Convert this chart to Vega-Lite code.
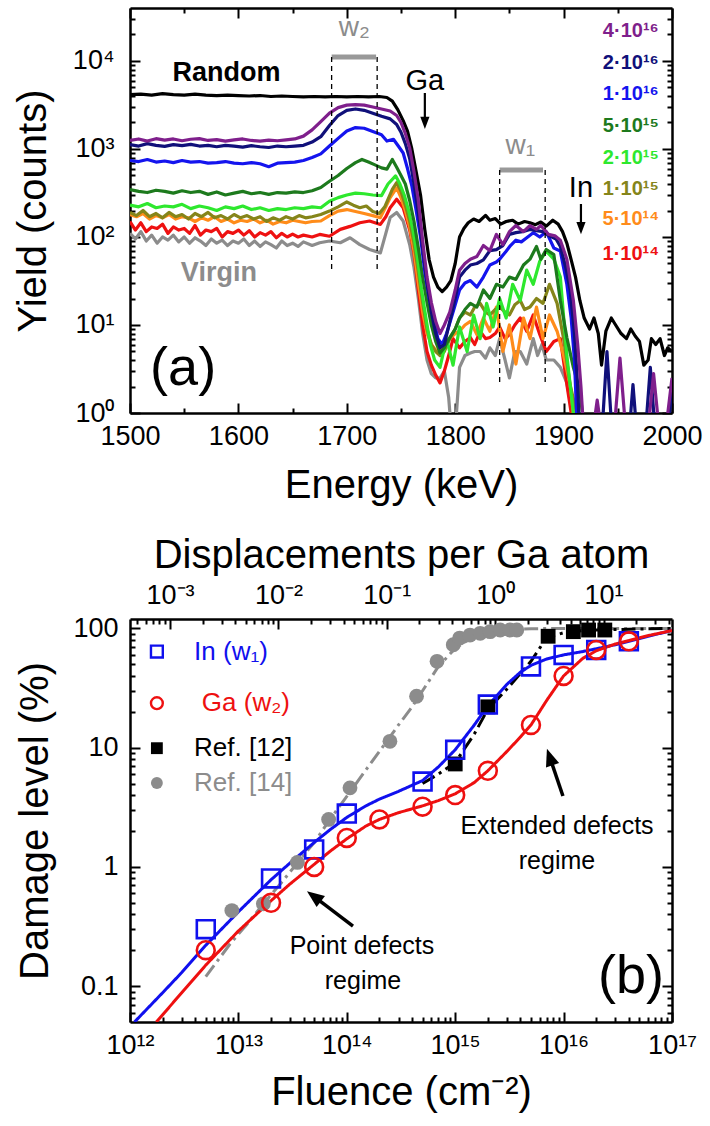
{
"$schema": "https://vega.github.io/schema/vega-lite/v6.json",
"padding": {"left": 13, "top": 7, "right": 5, "bottom": 5},
"config": {
  "font": "Liberation Sans",
  "view": {"stroke": null},
  "axis": {"domainColor": "#000", "domainWidth": 2.5, "tickColor": "#000", "tickWidth": 2, "labelColor": "#000", "titleColor": "#000", "labelFontSize": 27, "titleFontSize": 40, "titleFontWeight": "normal", "grid": false, "labelFlush": false, "labelOverlap": false, "labelFont": "Liberation Sans", "titleFont": "Liberation Sans"}
},
"resolve": {"scale": {"color": "independent", "shape": "independent", "strokeDash": "independent"}},
"datasets": {
"spectra": [
{"s":"Random","E":1500,"Y":4150},{"s":"Random","E":1510,"Y":4200},{"s":"Random","E":1520,"Y":4100},{"s":"Random","E":1530,"Y":4250},{"s":"Random","E":1540,"Y":4150},{"s":"Random","E":1550,"Y":4100},{"s":"Random","E":1560,"Y":4200},{"s":"Random","E":1570,"Y":4100},{"s":"Random","E":1580,"Y":4050},{"s":"Random","E":1590,"Y":4100},{"s":"Random","E":1600,"Y":4050},{"s":"Random","E":1610,"Y":4000},{"s":"Random","E":1620,"Y":4050},{"s":"Random","E":1630,"Y":3950},{"s":"Random","E":1640,"Y":4000},{"s":"Random","E":1650,"Y":3950},{"s":"Random","E":1660,"Y":3900},{"s":"Random","E":1670,"Y":3950},{"s":"Random","E":1680,"Y":3900},{"s":"Random","E":1690,"Y":3950},{"s":"Random","E":1700,"Y":3900},{"s":"Random","E":1710,"Y":3950},{"s":"Random","E":1720,"Y":3900},{"s":"Random","E":1730,"Y":3950},{"s":"Random","E":1737,"Y":3850},{"s":"Random","E":1742,"Y":3500},{"s":"Random","E":1747,"Y":2800},{"s":"Random","E":1752,"Y":2100},{"s":"Random","E":1756,"Y":1600},{"s":"Random","E":1760,"Y":1000},{"s":"Random","E":1764,"Y":550},{"s":"Random","E":1768,"Y":300},{"s":"Random","E":1772,"Y":120},{"s":"Random","E":1776,"Y":55},{"s":"Random","E":1780,"Y":35},{"s":"Random","E":1784,"Y":27},{"s":"Random","E":1788,"Y":24},{"s":"Random","E":1792,"Y":27},{"s":"Random","E":1796,"Y":32},{"s":"Random","E":1800,"Y":50},{"s":"Random","E":1804,"Y":100},{"s":"Random","E":1808,"Y":125},{"s":"Random","E":1812,"Y":145},{"s":"Random","E":1817,"Y":160},{"s":"Random","E":1822,"Y":150},{"s":"Random","E":1828,"Y":176},{"s":"Random","E":1832,"Y":155},{"s":"Random","E":1837,"Y":162},{"s":"Random","E":1842,"Y":140},{"s":"Random","E":1847,"Y":150},{"s":"Random","E":1853,"Y":155},{"s":"Random","E":1858,"Y":140},{"s":"Random","E":1864,"Y":150},{"s":"Random","E":1869,"Y":145},{"s":"Random","E":1874,"Y":138},{"s":"Random","E":1879,"Y":148},{"s":"Random","E":1884,"Y":133},{"s":"Random","E":1890,"Y":155},{"s":"Random","E":1895,"Y":140},{"s":"Random","E":1899,"Y":115},{"s":"Random","E":1903,"Y":85},{"s":"Random","E":1907,"Y":55},{"s":"Random","E":1911,"Y":35},{"s":"Random","E":1915,"Y":19},{"s":"Random","E":1919,"Y":12},{"s":"Random","E":1924,"Y":9},{"s":"Random","E":1928,"Y":12},{"s":"Random","E":1932,"Y":8},{"s":"Random","E":1935,"Y":3.5},{"s":"Random","E":1939,"Y":8.5},{"s":"Random","E":1944,"Y":12},{"s":"Random","E":1948,"Y":10},{"s":"Random","E":1953,"Y":8},{"s":"Random","E":1958,"Y":7},{"s":"Random","E":1962,"Y":9},{"s":"Random","E":1966,"Y":7.5},{"s":"Random","E":1970,"Y":6.5},{"s":"Random","E":1974,"Y":3.5},{"s":"Random","E":1978,"Y":4},{"s":"Random","E":1981,"Y":7},{"s":"Random","E":1985,"Y":6},{"s":"Random","E":1989,"Y":7},{"s":"Random","E":1993,"Y":4.5},{"s":"Random","E":1996,"Y":5.5},{"s":"Random","E":2000,"Y":5},
{"s":"Virgin","E":1500,"Y":110},{"s":"Virgin","E":1505,"Y":95},{"s":"Virgin","E":1510,"Y":115},{"s":"Virgin","E":1515,"Y":90},{"s":"Virgin","E":1520,"Y":105},{"s":"Virgin","E":1525,"Y":85},{"s":"Virgin","E":1530,"Y":100},{"s":"Virgin","E":1535,"Y":92},{"s":"Virgin","E":1540,"Y":105},{"s":"Virgin","E":1545,"Y":88},{"s":"Virgin","E":1550,"Y":100},{"s":"Virgin","E":1555,"Y":85},{"s":"Virgin","E":1560,"Y":98},{"s":"Virgin","E":1565,"Y":90},{"s":"Virgin","E":1570,"Y":80},{"s":"Virgin","E":1575,"Y":95},{"s":"Virgin","E":1580,"Y":85},{"s":"Virgin","E":1585,"Y":92},{"s":"Virgin","E":1590,"Y":80},{"s":"Virgin","E":1595,"Y":90},{"s":"Virgin","E":1600,"Y":85},{"s":"Virgin","E":1605,"Y":95},{"s":"Virgin","E":1610,"Y":80},{"s":"Virgin","E":1615,"Y":90},{"s":"Virgin","E":1620,"Y":78},{"s":"Virgin","E":1625,"Y":88},{"s":"Virgin","E":1630,"Y":82},{"s":"Virgin","E":1635,"Y":75},{"s":"Virgin","E":1640,"Y":90},{"s":"Virgin","E":1645,"Y":80},{"s":"Virgin","E":1650,"Y":85},{"s":"Virgin","E":1655,"Y":78},{"s":"Virgin","E":1660,"Y":88},{"s":"Virgin","E":1668,"Y":80},{"s":"Virgin","E":1675,"Y":86},{"s":"Virgin","E":1684,"Y":90},{"s":"Virgin","E":1694,"Y":86},{"s":"Virgin","E":1703,"Y":98},{"s":"Virgin","E":1712,"Y":82},{"s":"Virgin","E":1721,"Y":72},{"s":"Virgin","E":1731,"Y":66},{"s":"Virgin","E":1736,"Y":110},{"s":"Virgin","E":1740,"Y":166},{"s":"Virgin","E":1746,"Y":190},{"s":"Virgin","E":1752,"Y":152},{"s":"Virgin","E":1758,"Y":82},{"s":"Virgin","E":1762,"Y":45},{"s":"Virgin","E":1766,"Y":20},{"s":"Virgin","E":1770,"Y":8},{"s":"Virgin","E":1774,"Y":4},{"s":"Virgin","E":1778,"Y":2.8},{"s":"Virgin","E":1782,"Y":2.5},{"s":"Virgin","E":1786,"Y":2.5},{"s":"Virgin","E":1790,"Y":3},{"s":"Virgin","E":1794,"Y":1.5},{"s":"Virgin","E":1797,"Y":0.5},{"s":"Virgin","E":1800,"Y":0.6},{"s":"Virgin","E":1804,"Y":3.3},{"s":"Virgin","E":1809,"Y":4.5},{"s":"Virgin","E":1814,"Y":4.8},{"s":"Virgin","E":1818,"Y":5},{"s":"Virgin","E":1823,"Y":5},{"s":"Virgin","E":1828,"Y":4.2},{"s":"Virgin","E":1832,"Y":5.5},{"s":"Virgin","E":1837,"Y":4.5},{"s":"Virgin","E":1841,"Y":7},{"s":"Virgin","E":1846,"Y":4},{"s":"Virgin","E":1850,"Y":2.5},{"s":"Virgin","E":1855,"Y":5},{"s":"Virgin","E":1860,"Y":5},{"s":"Virgin","E":1866,"Y":3.6},{"s":"Virgin","E":1872,"Y":7},{"s":"Virgin","E":1876,"Y":4.5},{"s":"Virgin","E":1880,"Y":6},{"s":"Virgin","E":1884,"Y":4},{"s":"Virgin","E":1891,"Y":4},{"s":"Virgin","E":1897,"Y":3.3},{"s":"Virgin","E":1903,"Y":2.2},{"s":"Virgin","E":1907,"Y":1.2},{"s":"Virgin","E":1910,"Y":0.5},
{"s":"1e14","E":1500,"Y":150},{"s":"1e14","E":1505,"Y":120},{"s":"1e14","E":1510,"Y":145},{"s":"1e14","E":1515,"Y":115},{"s":"1e14","E":1520,"Y":130},{"s":"1e14","E":1525,"Y":125},{"s":"1e14","E":1530,"Y":140},{"s":"1e14","E":1535,"Y":110},{"s":"1e14","E":1540,"Y":130},{"s":"1e14","E":1545,"Y":120},{"s":"1e14","E":1550,"Y":125},{"s":"1e14","E":1555,"Y":110},{"s":"1e14","E":1560,"Y":135},{"s":"1e14","E":1565,"Y":105},{"s":"1e14","E":1570,"Y":120},{"s":"1e14","E":1575,"Y":115},{"s":"1e14","E":1580,"Y":125},{"s":"1e14","E":1585,"Y":100},{"s":"1e14","E":1590,"Y":115},{"s":"1e14","E":1595,"Y":110},{"s":"1e14","E":1600,"Y":120},{"s":"1e14","E":1605,"Y":105},{"s":"1e14","E":1610,"Y":118},{"s":"1e14","E":1615,"Y":100},{"s":"1e14","E":1620,"Y":112},{"s":"1e14","E":1625,"Y":105},{"s":"1e14","E":1630,"Y":115},{"s":"1e14","E":1635,"Y":98},{"s":"1e14","E":1640,"Y":110},{"s":"1e14","E":1645,"Y":100},{"s":"1e14","E":1650,"Y":108},{"s":"1e14","E":1655,"Y":100},{"s":"1e14","E":1660,"Y":105},{"s":"1e14","E":1668,"Y":100},{"s":"1e14","E":1675,"Y":107},{"s":"1e14","E":1684,"Y":102},{"s":"1e14","E":1694,"Y":122},{"s":"1e14","E":1703,"Y":132},{"s":"1e14","E":1712,"Y":145},{"s":"1e14","E":1721,"Y":152},{"s":"1e14","E":1731,"Y":139},{"s":"1e14","E":1736,"Y":170},{"s":"1e14","E":1740,"Y":215},{"s":"1e14","E":1746,"Y":268},{"s":"1e14","E":1752,"Y":215},{"s":"1e14","E":1758,"Y":120},{"s":"1e14","E":1762,"Y":65},{"s":"1e14","E":1766,"Y":25},{"s":"1e14","E":1770,"Y":10},{"s":"1e14","E":1774,"Y":5},{"s":"1e14","E":1778,"Y":3.5},{"s":"1e14","E":1782,"Y":2.7},{"s":"1e14","E":1786,"Y":2.2},{"s":"1e14","E":1790,"Y":3},{"s":"1e14","E":1794,"Y":4.5},{"s":"1e14","E":1798,"Y":7},{"s":"1e14","E":1804,"Y":5.5},{"s":"1e14","E":1809,"Y":6.5},{"s":"1e14","E":1814,"Y":7.2},{"s":"1e14","E":1818,"Y":6},{"s":"1e14","E":1823,"Y":8.5},{"s":"1e14","E":1828,"Y":7},{"s":"1e14","E":1832,"Y":7.2},{"s":"1e14","E":1837,"Y":8},{"s":"1e14","E":1841,"Y":9.5},{"s":"1e14","E":1846,"Y":7},{"s":"1e14","E":1850,"Y":7.8},{"s":"1e14","E":1855,"Y":10},{"s":"1e14","E":1860,"Y":12},{"s":"1e14","E":1866,"Y":8.5},{"s":"1e14","E":1872,"Y":13},{"s":"1e14","E":1878,"Y":7.8},{"s":"1e14","E":1884,"Y":5},{"s":"1e14","E":1891,"Y":6.5},{"s":"1e14","E":1897,"Y":7},{"s":"1e14","E":1903,"Y":2.1},{"s":"1e14","E":1907,"Y":1},{"s":"1e14","E":1910,"Y":0.5},
{"s":"5e14","E":1500,"Y":180},{"s":"5e14","E":1506,"Y":170},{"s":"5e14","E":1512,"Y":185},{"s":"5e14","E":1518,"Y":160},{"s":"5e14","E":1524,"Y":175},{"s":"5e14","E":1530,"Y":165},{"s":"5e14","E":1536,"Y":180},{"s":"5e14","E":1542,"Y":160},{"s":"5e14","E":1548,"Y":170},{"s":"5e14","E":1554,"Y":165},{"s":"5e14","E":1560,"Y":150},{"s":"5e14","E":1566,"Y":165},{"s":"5e14","E":1572,"Y":155},{"s":"5e14","E":1578,"Y":170},{"s":"5e14","E":1584,"Y":150},{"s":"5e14","E":1590,"Y":160},{"s":"5e14","E":1596,"Y":145},{"s":"5e14","E":1602,"Y":155},{"s":"5e14","E":1608,"Y":150},{"s":"5e14","E":1614,"Y":160},{"s":"5e14","E":1620,"Y":145},{"s":"5e14","E":1626,"Y":155},{"s":"5e14","E":1632,"Y":140},{"s":"5e14","E":1638,"Y":150},{"s":"5e14","E":1644,"Y":145},{"s":"5e14","E":1650,"Y":155},{"s":"5e14","E":1656,"Y":150},{"s":"5e14","E":1662,"Y":145},{"s":"5e14","E":1668,"Y":150},{"s":"5e14","E":1676,"Y":152},{"s":"5e14","E":1684,"Y":175},{"s":"5e14","E":1692,"Y":197},{"s":"5e14","E":1700,"Y":205},{"s":"5e14","E":1708,"Y":195},{"s":"5e14","E":1716,"Y":185},{"s":"5e14","E":1724,"Y":175},{"s":"5e14","E":1731,"Y":166},{"s":"5e14","E":1736,"Y":220},{"s":"5e14","E":1740,"Y":280},{"s":"5e14","E":1746,"Y":362},{"s":"5e14","E":1750,"Y":280},{"s":"5e14","E":1754,"Y":200},{"s":"5e14","E":1758,"Y":130},{"s":"5e14","E":1762,"Y":70},{"s":"5e14","E":1766,"Y":30},{"s":"5e14","E":1770,"Y":14},{"s":"5e14","E":1774,"Y":8},{"s":"5e14","E":1778,"Y":6},{"s":"5e14","E":1782,"Y":5.2},{"s":"5e14","E":1786,"Y":5},{"s":"5e14","E":1790,"Y":6},{"s":"5e14","E":1795,"Y":7},{"s":"5e14","E":1800,"Y":8},{"s":"5e14","E":1804,"Y":8.5},{"s":"5e14","E":1809,"Y":10},{"s":"5e14","E":1814,"Y":11},{"s":"5e14","E":1820,"Y":7.8},{"s":"5e14","E":1826,"Y":12},{"s":"5e14","E":1832,"Y":8.5},{"s":"5e14","E":1838,"Y":16},{"s":"5e14","E":1844,"Y":5},{"s":"5e14","E":1850,"Y":10},{"s":"5e14","E":1856,"Y":3.6},{"s":"5e14","E":1863,"Y":12},{"s":"5e14","E":1869,"Y":7},{"s":"5e14","E":1875,"Y":16},{"s":"5e14","E":1881,"Y":7},{"s":"5e14","E":1887,"Y":13},{"s":"5e14","E":1894,"Y":8.5},{"s":"5e14","E":1900,"Y":4.5},{"s":"5e14","E":1906,"Y":2.1},{"s":"5e14","E":1909,"Y":1},{"s":"5e14","E":1912,"Y":0.5},
{"s":"1e15","E":1500,"Y":190},{"s":"1e15","E":1506,"Y":175},{"s":"1e15","E":1512,"Y":200},{"s":"1e15","E":1518,"Y":170},{"s":"1e15","E":1524,"Y":185},{"s":"1e15","E":1530,"Y":165},{"s":"1e15","E":1536,"Y":190},{"s":"1e15","E":1542,"Y":170},{"s":"1e15","E":1548,"Y":180},{"s":"1e15","E":1554,"Y":160},{"s":"1e15","E":1560,"Y":185},{"s":"1e15","E":1566,"Y":170},{"s":"1e15","E":1572,"Y":190},{"s":"1e15","E":1578,"Y":165},{"s":"1e15","E":1584,"Y":175},{"s":"1e15","E":1590,"Y":160},{"s":"1e15","E":1596,"Y":180},{"s":"1e15","E":1602,"Y":165},{"s":"1e15","E":1608,"Y":175},{"s":"1e15","E":1614,"Y":160},{"s":"1e15","E":1620,"Y":170},{"s":"1e15","E":1626,"Y":150},{"s":"1e15","E":1632,"Y":165},{"s":"1e15","E":1638,"Y":155},{"s":"1e15","E":1644,"Y":170},{"s":"1e15","E":1650,"Y":160},{"s":"1e15","E":1656,"Y":175},{"s":"1e15","E":1662,"Y":165},{"s":"1e15","E":1668,"Y":170},{"s":"1e15","E":1676,"Y":180},{"s":"1e15","E":1684,"Y":197},{"s":"1e15","E":1692,"Y":220},{"s":"1e15","E":1700,"Y":250},{"s":"1e15","E":1706,"Y":230},{"s":"1e15","E":1712,"Y":215},{"s":"1e15","E":1718,"Y":225},{"s":"1e15","E":1724,"Y":195},{"s":"1e15","E":1730,"Y":185},{"s":"1e15","E":1735,"Y":220},{"s":"1e15","E":1742,"Y":348},{"s":"1e15","E":1746,"Y":415},{"s":"1e15","E":1750,"Y":330},{"s":"1e15","E":1754,"Y":230},{"s":"1e15","E":1758,"Y":152},{"s":"1e15","E":1762,"Y":85},{"s":"1e15","E":1766,"Y":40},{"s":"1e15","E":1770,"Y":18},{"s":"1e15","E":1774,"Y":9},{"s":"1e15","E":1778,"Y":6},{"s":"1e15","E":1782,"Y":5},{"s":"1e15","E":1786,"Y":4.5},{"s":"1e15","E":1790,"Y":5},{"s":"1e15","E":1795,"Y":7},{"s":"1e15","E":1800,"Y":9},{"s":"1e15","E":1804,"Y":12},{"s":"1e15","E":1809,"Y":14},{"s":"1e15","E":1814,"Y":13},{"s":"1e15","E":1818,"Y":16},{"s":"1e15","E":1823,"Y":17.6},{"s":"1e15","E":1828,"Y":14},{"s":"1e15","E":1832,"Y":13},{"s":"1e15","E":1837,"Y":15},{"s":"1e15","E":1841,"Y":16},{"s":"1e15","E":1846,"Y":14},{"s":"1e15","E":1850,"Y":13},{"s":"1e15","E":1855,"Y":17},{"s":"1e15","E":1860,"Y":19},{"s":"1e15","E":1864,"Y":15},{"s":"1e15","E":1869,"Y":16},{"s":"1e15","E":1875,"Y":20},{"s":"1e15","E":1881,"Y":17.6},{"s":"1e15","E":1887,"Y":29},{"s":"1e15","E":1894,"Y":17.6},{"s":"1e15","E":1900,"Y":7},{"s":"1e15","E":1906,"Y":2.1},{"s":"1e15","E":1912,"Y":1},{"s":"1e15","E":1916,"Y":0.5},
{"s":"2e15","E":1500,"Y":230},{"s":"2e15","E":1508,"Y":220},{"s":"2e15","E":1516,"Y":240},{"s":"2e15","E":1524,"Y":215},{"s":"2e15","E":1532,"Y":225},{"s":"2e15","E":1540,"Y":220},{"s":"2e15","E":1548,"Y":235},{"s":"2e15","E":1556,"Y":210},{"s":"2e15","E":1564,"Y":225},{"s":"2e15","E":1572,"Y":215},{"s":"2e15","E":1580,"Y":200},{"s":"2e15","E":1588,"Y":220},{"s":"2e15","E":1596,"Y":210},{"s":"2e15","E":1604,"Y":225},{"s":"2e15","E":1612,"Y":205},{"s":"2e15","E":1620,"Y":215},{"s":"2e15","E":1628,"Y":200},{"s":"2e15","E":1636,"Y":210},{"s":"2e15","E":1644,"Y":205},{"s":"2e15","E":1652,"Y":215},{"s":"2e15","E":1660,"Y":210},{"s":"2e15","E":1668,"Y":220},{"s":"2e15","E":1676,"Y":215},{"s":"2e15","E":1684,"Y":255},{"s":"2e15","E":1692,"Y":280},{"s":"2e15","E":1700,"Y":300},{"s":"2e15","E":1708,"Y":315},{"s":"2e15","E":1716,"Y":310},{"s":"2e15","E":1724,"Y":300},{"s":"2e15","E":1732,"Y":295},{"s":"2e15","E":1738,"Y":400},{"s":"2e15","E":1745,"Y":495},{"s":"2e15","E":1749,"Y":400},{"s":"2e15","E":1753,"Y":300},{"s":"2e15","E":1757,"Y":200},{"s":"2e15","E":1761,"Y":120},{"s":"2e15","E":1765,"Y":60},{"s":"2e15","E":1769,"Y":25},{"s":"2e15","E":1773,"Y":12},{"s":"2e15","E":1777,"Y":6},{"s":"2e15","E":1781,"Y":4},{"s":"2e15","E":1786,"Y":3.3},{"s":"2e15","E":1792,"Y":7},{"s":"2e15","E":1798,"Y":3.5},{"s":"2e15","E":1804,"Y":9.5},{"s":"2e15","E":1811,"Y":5},{"s":"2e15","E":1817,"Y":13},{"s":"2e15","E":1823,"Y":7},{"s":"2e15","E":1829,"Y":17.6},{"s":"2e15","E":1835,"Y":9.5},{"s":"2e15","E":1841,"Y":20},{"s":"2e15","E":1847,"Y":12},{"s":"2e15","E":1853,"Y":29},{"s":"2e15","E":1860,"Y":19},{"s":"2e15","E":1866,"Y":42},{"s":"2e15","E":1872,"Y":29},{"s":"2e15","E":1878,"Y":53},{"s":"2e15","E":1884,"Y":69},{"s":"2e15","E":1891,"Y":56},{"s":"2e15","E":1897,"Y":35},{"s":"2e15","E":1903,"Y":4.5},{"s":"2e15","E":1909,"Y":1.0},{"s":"2e15","E":1912,"Y":0.5},
{"s":"5e15","E":1500,"Y":345},{"s":"5e15","E":1508,"Y":330},{"s":"5e15","E":1516,"Y":320},{"s":"5e15","E":1524,"Y":340},{"s":"5e15","E":1532,"Y":330},{"s":"5e15","E":1540,"Y":315},{"s":"5e15","E":1548,"Y":335},{"s":"5e15","E":1556,"Y":320},{"s":"5e15","E":1564,"Y":330},{"s":"5e15","E":1572,"Y":305},{"s":"5e15","E":1580,"Y":325},{"s":"5e15","E":1588,"Y":300},{"s":"5e15","E":1596,"Y":315},{"s":"5e15","E":1604,"Y":330},{"s":"5e15","E":1612,"Y":310},{"s":"5e15","E":1620,"Y":320},{"s":"5e15","E":1628,"Y":305},{"s":"5e15","E":1636,"Y":320},{"s":"5e15","E":1644,"Y":315},{"s":"5e15","E":1652,"Y":325},{"s":"5e15","E":1660,"Y":320},{"s":"5e15","E":1668,"Y":335},{"s":"5e15","E":1676,"Y":365},{"s":"5e15","E":1684,"Y":430},{"s":"5e15","E":1692,"Y":500},{"s":"5e15","E":1700,"Y":600},{"s":"5e15","E":1708,"Y":700},{"s":"5e15","E":1714,"Y":760},{"s":"5e15","E":1720,"Y":710},{"s":"5e15","E":1726,"Y":660},{"s":"5e15","E":1732,"Y":610},{"s":"5e15","E":1737,"Y":590},{"s":"5e15","E":1742,"Y":760},{"s":"5e15","E":1746,"Y":620},{"s":"5e15","E":1750,"Y":500},{"s":"5e15","E":1754,"Y":400},{"s":"5e15","E":1758,"Y":260},{"s":"5e15","E":1762,"Y":150},{"s":"5e15","E":1766,"Y":75},{"s":"5e15","E":1770,"Y":35},{"s":"5e15","E":1774,"Y":18},{"s":"5e15","E":1778,"Y":10},{"s":"5e15","E":1782,"Y":6.5},{"s":"5e15","E":1786,"Y":4.8},{"s":"5e15","E":1790,"Y":5.5},{"s":"5e15","E":1795,"Y":7.2},{"s":"5e15","E":1800,"Y":9},{"s":"5e15","E":1804,"Y":12},{"s":"5e15","E":1809,"Y":15},{"s":"5e15","E":1814,"Y":17.6},{"s":"5e15","E":1820,"Y":16},{"s":"5e15","E":1826,"Y":25},{"s":"5e15","E":1832,"Y":20},{"s":"5e15","E":1838,"Y":29},{"s":"5e15","E":1844,"Y":27},{"s":"5e15","E":1850,"Y":35},{"s":"5e15","E":1856,"Y":33},{"s":"5e15","E":1863,"Y":48},{"s":"5e15","E":1869,"Y":56},{"s":"5e15","E":1875,"Y":78},{"s":"5e15","E":1879,"Y":56},{"s":"5e15","E":1884,"Y":72},{"s":"5e15","E":1891,"Y":63},{"s":"5e15","E":1897,"Y":19},{"s":"5e15","E":1903,"Y":7.2},{"s":"5e15","E":1909,"Y":3.3},{"s":"5e15","E":1915,"Y":1.8},{"s":"5e15","E":1920,"Y":0.5},
{"s":"1e16","E":1500,"Y":740},{"s":"1e16","E":1508,"Y":720},{"s":"1e16","E":1516,"Y":760},{"s":"1e16","E":1524,"Y":710},{"s":"1e16","E":1532,"Y":730},{"s":"1e16","E":1540,"Y":700},{"s":"1e16","E":1548,"Y":740},{"s":"1e16","E":1556,"Y":710},{"s":"1e16","E":1564,"Y":720},{"s":"1e16","E":1572,"Y":690},{"s":"1e16","E":1580,"Y":700},{"s":"1e16","E":1588,"Y":720},{"s":"1e16","E":1596,"Y":690},{"s":"1e16","E":1604,"Y":680},{"s":"1e16","E":1612,"Y":700},{"s":"1e16","E":1620,"Y":680},{"s":"1e16","E":1628,"Y":630},{"s":"1e16","E":1636,"Y":690},{"s":"1e16","E":1644,"Y":700},{"s":"1e16","E":1652,"Y":710},{"s":"1e16","E":1660,"Y":740},{"s":"1e16","E":1668,"Y":800},{"s":"1e16","E":1676,"Y":880},{"s":"1e16","E":1684,"Y":1080},{"s":"1e16","E":1692,"Y":1320},{"s":"1e16","E":1700,"Y":1600},{"s":"1e16","E":1708,"Y":1750},{"s":"1e16","E":1716,"Y":1720},{"s":"1e16","E":1724,"Y":1580},{"s":"1e16","E":1732,"Y":1450},{"s":"1e16","E":1737,"Y":1230},{"s":"1e16","E":1743,"Y":1290},{"s":"1e16","E":1748,"Y":1060},{"s":"1e16","E":1752,"Y":900},{"s":"1e16","E":1756,"Y":600},{"s":"1e16","E":1760,"Y":380},{"s":"1e16","E":1764,"Y":200},{"s":"1e16","E":1768,"Y":100},{"s":"1e16","E":1772,"Y":40},{"s":"1e16","E":1776,"Y":20},{"s":"1e16","E":1780,"Y":12},{"s":"1e16","E":1784,"Y":7},{"s":"1e16","E":1788,"Y":6},{"s":"1e16","E":1792,"Y":8},{"s":"1e16","E":1795,"Y":10.5},{"s":"1e16","E":1800,"Y":17},{"s":"1e16","E":1804,"Y":25},{"s":"1e16","E":1809,"Y":30},{"s":"1e16","E":1814,"Y":32},{"s":"1e16","E":1820,"Y":27},{"s":"1e16","E":1826,"Y":35},{"s":"1e16","E":1832,"Y":48},{"s":"1e16","E":1838,"Y":52},{"s":"1e16","E":1841,"Y":56},{"s":"1e16","E":1847,"Y":69},{"s":"1e16","E":1851,"Y":80},{"s":"1e16","E":1856,"Y":92},{"s":"1e16","E":1861,"Y":88},{"s":"1e16","E":1866,"Y":98},{"s":"1e16","E":1872,"Y":112},{"s":"1e16","E":1878,"Y":100},{"s":"1e16","E":1884,"Y":115},{"s":"1e16","E":1891,"Y":75},{"s":"1e16","E":1897,"Y":69},{"s":"1e16","E":1903,"Y":29},{"s":"1e16","E":1907,"Y":12},{"s":"1e16","E":1910,"Y":4},{"s":"1e16","E":1913,"Y":0.5},
{"s":"2e16","E":1500,"Y":1120},{"s":"2e16","E":1508,"Y":1080},{"s":"2e16","E":1516,"Y":1150},{"s":"2e16","E":1524,"Y":1100},{"s":"2e16","E":1532,"Y":1070},{"s":"2e16","E":1540,"Y":1120},{"s":"2e16","E":1548,"Y":1090},{"s":"2e16","E":1556,"Y":1130},{"s":"2e16","E":1564,"Y":1080},{"s":"2e16","E":1572,"Y":1100},{"s":"2e16","E":1580,"Y":1060},{"s":"2e16","E":1588,"Y":1100},{"s":"2e16","E":1596,"Y":1080},{"s":"2e16","E":1604,"Y":1050},{"s":"2e16","E":1612,"Y":1090},{"s":"2e16","E":1620,"Y":1060},{"s":"2e16","E":1628,"Y":1040},{"s":"2e16","E":1636,"Y":1080},{"s":"2e16","E":1644,"Y":1060},{"s":"2e16","E":1652,"Y":1080},{"s":"2e16","E":1660,"Y":1100},{"s":"2e16","E":1668,"Y":1200},{"s":"2e16","E":1676,"Y":1380},{"s":"2e16","E":1684,"Y":1850},{"s":"2e16","E":1692,"Y":2400},{"s":"2e16","E":1700,"Y":2750},{"s":"2e16","E":1708,"Y":2850},{"s":"2e16","E":1716,"Y":2750},{"s":"2e16","E":1724,"Y":2550},{"s":"2e16","E":1732,"Y":2350},{"s":"2e16","E":1740,"Y":2200},{"s":"2e16","E":1746,"Y":1900},{"s":"2e16","E":1750,"Y":1550},{"s":"2e16","E":1754,"Y":1150},{"s":"2e16","E":1758,"Y":780},{"s":"2e16","E":1762,"Y":400},{"s":"2e16","E":1766,"Y":190},{"s":"2e16","E":1770,"Y":75},{"s":"2e16","E":1774,"Y":30},{"s":"2e16","E":1778,"Y":14},{"s":"2e16","E":1782,"Y":8},{"s":"2e16","E":1786,"Y":5.5},{"s":"2e16","E":1790,"Y":6},{"s":"2e16","E":1795,"Y":11},{"s":"2e16","E":1800,"Y":20},{"s":"2e16","E":1804,"Y":35},{"s":"2e16","E":1809,"Y":42},{"s":"2e16","E":1814,"Y":48},{"s":"2e16","E":1820,"Y":50},{"s":"2e16","E":1826,"Y":55},{"s":"2e16","E":1832,"Y":70},{"s":"2e16","E":1838,"Y":72},{"s":"2e16","E":1844,"Y":80},{"s":"2e16","E":1850,"Y":107},{"s":"2e16","E":1856,"Y":112},{"s":"2e16","E":1862,"Y":115},{"s":"2e16","E":1869,"Y":122},{"s":"2e16","E":1875,"Y":118},{"s":"2e16","E":1881,"Y":115},{"s":"2e16","E":1887,"Y":103},{"s":"2e16","E":1893,"Y":95},{"s":"2e16","E":1897,"Y":78},{"s":"2e16","E":1902,"Y":45},{"s":"2e16","E":1906,"Y":25},{"s":"2e16","E":1910,"Y":8},{"s":"2e16","E":1913,"Y":2},{"s":"2e16","E":1915,"Y":0.5},{"s":"2e16","E":1935,"Y":0.5},{"s":"2e16","E":1940,"Y":5},{"s":"2e16","E":1945,"Y":0.5},{"s":"2e16","E":1960,"Y":0.5},{"s":"2e16","E":1964,"Y":2.1},{"s":"2e16","E":1968,"Y":0.5},{"s":"2e16","E":1975,"Y":0.5},{"s":"2e16","E":1980,"Y":3.3},{"s":"2e16","E":1985,"Y":0.5},{"s":"2e16","E":1995,"Y":0.5},{"s":"2e16","E":2000,"Y":1.8},
{"s":"4e16","E":1500,"Y":1250},{"s":"4e16","E":1508,"Y":1300},{"s":"4e16","E":1516,"Y":1230},{"s":"4e16","E":1524,"Y":1310},{"s":"4e16","E":1532,"Y":1260},{"s":"4e16","E":1540,"Y":1300},{"s":"4e16","E":1548,"Y":1240},{"s":"4e16","E":1556,"Y":1290},{"s":"4e16","E":1564,"Y":1310},{"s":"4e16","E":1572,"Y":1250},{"s":"4e16","E":1580,"Y":1280},{"s":"4e16","E":1588,"Y":1230},{"s":"4e16","E":1596,"Y":1270},{"s":"4e16","E":1604,"Y":1300},{"s":"4e16","E":1612,"Y":1250},{"s":"4e16","E":1620,"Y":1230},{"s":"4e16","E":1628,"Y":1260},{"s":"4e16","E":1636,"Y":1240},{"s":"4e16","E":1644,"Y":1270},{"s":"4e16","E":1652,"Y":1300},{"s":"4e16","E":1660,"Y":1400},{"s":"4e16","E":1668,"Y":1650},{"s":"4e16","E":1676,"Y":2050},{"s":"4e16","E":1684,"Y":2550},{"s":"4e16","E":1692,"Y":2950},{"s":"4e16","E":1700,"Y":3150},{"s":"4e16","E":1708,"Y":3200},{"s":"4e16","E":1716,"Y":3150},{"s":"4e16","E":1724,"Y":3000},{"s":"4e16","E":1732,"Y":2850},{"s":"4e16","E":1740,"Y":2700},{"s":"4e16","E":1746,"Y":2400},{"s":"4e16","E":1750,"Y":2000},{"s":"4e16","E":1754,"Y":1500},{"s":"4e16","E":1758,"Y":1030},{"s":"4e16","E":1762,"Y":550},{"s":"4e16","E":1766,"Y":260},{"s":"4e16","E":1770,"Y":90},{"s":"4e16","E":1774,"Y":35},{"s":"4e16","E":1778,"Y":18},{"s":"4e16","E":1782,"Y":11},{"s":"4e16","E":1786,"Y":8},{"s":"4e16","E":1790,"Y":10},{"s":"4e16","E":1795,"Y":14},{"s":"4e16","E":1800,"Y":25},{"s":"4e16","E":1804,"Y":42},{"s":"4e16","E":1809,"Y":50},{"s":"4e16","E":1814,"Y":56},{"s":"4e16","E":1820,"Y":60},{"s":"4e16","E":1826,"Y":80},{"s":"4e16","E":1832,"Y":70},{"s":"4e16","E":1838,"Y":107},{"s":"4e16","E":1844,"Y":82},{"s":"4e16","E":1850,"Y":115},{"s":"4e16","E":1856,"Y":135},{"s":"4e16","E":1863,"Y":115},{"s":"4e16","E":1869,"Y":135},{"s":"4e16","E":1875,"Y":122},{"s":"4e16","E":1879,"Y":135},{"s":"4e16","E":1886,"Y":107},{"s":"4e16","E":1892,"Y":103},{"s":"4e16","E":1897,"Y":92},{"s":"4e16","E":1903,"Y":56},{"s":"4e16","E":1909,"Y":19},{"s":"4e16","E":1913,"Y":6},{"s":"4e16","E":1916,"Y":2},{"s":"4e16","E":1919,"Y":0.5},{"s":"4e16","E":1926,"Y":0.5},{"s":"4e16","E":1931,"Y":1.4},{"s":"4e16","E":1936,"Y":0.5},{"s":"4e16","E":1946,"Y":0.5},{"s":"4e16","E":1952,"Y":4.2},{"s":"4e16","E":1958,"Y":0.5},{"s":"4e16","E":1977,"Y":0.5},{"s":"4e16","E":1983,"Y":2.8},{"s":"4e16","E":1989,"Y":0.5},{"s":"4e16","E":1994,"Y":0.6},{"s":"4e16","E":2000,"Y":2.5}
],
"flabels": [
{"s":"4e16","label":"4·10¹⁶","E":1962,"Y":21900},
{"s":"2e16","label":"2·10¹⁶","E":1962,"Y":9600},
{"s":"1e16","label":"1·10¹⁶","E":1962,"Y":4220},
{"s":"5e15","label":"5·10¹⁵","E":1962,"Y":1830},
{"s":"2e15","label":"2·10¹⁵","E":1962,"Y":790},
{"s":"1e15","label":"1·10¹⁵","E":1962,"Y":351},
{"s":"5e14","label":"5·10¹⁴","E":1962,"Y":160},
{"s":"1e14","label":"1·10¹⁴","E":1962,"Y":64}
],
"rvlabels": [
{"s":"Random","label":"Random","E":1589,"Y":7360},
{"s":"Virgin","label":"Virgin","E":1582,"Y":39}
],
"elements": [
{"label":"Ga","E":1772,"Y":5930},
{"label":"In","E":1916,"Y":360}
],
"windows": [
{"label":"w₂","E":1707,"E2":1686,"E3":1727,"Y":23700,"Yb":11100},
{"label":"w₁","E":1860,"E2":1841,"E3":1881,"Y":1080,"Yb":578}
],
"dashes": [
{"E":1686,"Y":11100,"Y2":39},{"E":1728,"Y":11100,"Y2":39},
{"E":1841,"Y":578,"Y2":2.1},{"E":1883,"Y":578,"Y2":2.1}
],
"aarrows": [
{"E":1772,"Y":4330,"Y2":2000,"Yh":1975},
{"E":1916,"Y":237,"Y2":128,"Yh":126}
],
"fits": [
{"s":"Ref14","F":5e12,"D":0.12},{"s":"Ref14","F":8.5e12,"D":0.23},{"s":"Ref14","F":1.2e13,"D":0.33},{"s":"Ref14","F":1.7e13,"D":0.49},{"s":"Ref14","F":2.5e13,"D":0.74},{"s":"Ref14","F":3.5e13,"D":1.08},{"s":"Ref14","F":5e13,"D":1.6},{"s":"Ref14","F":7e13,"D":2.5},{"s":"Ref14","F":1e14,"D":3.9},{"s":"Ref14","F":1.5e14,"D":6.5},{"s":"Ref14","F":2e14,"D":9.3},{"s":"Ref14","F":3e14,"D":15.5},{"s":"Ref14","F":4e14,"D":22},{"s":"Ref14","F":5e14,"D":30},{"s":"Ref14","F":7e14,"D":48},{"s":"Ref14","F":1e15,"D":68},{"s":"Ref14","F":1.5e15,"D":86},{"s":"Ref14","F":2e15,"D":93},{"s":"Ref14","F":3e15,"D":97.5},{"s":"Ref14","F":5e15,"D":99.5},{"s":"Ref14","F":1e16,"D":100},{"s":"Ref14","F":1e17,"D":100},
{"s":"Ref12","F":5e14,"D":5.0},{"s":"Ref12","F":7e14,"D":6.0},{"s":"Ref12","F":1e15,"D":7.5},{"s":"Ref12","F":1.5e15,"D":13},{"s":"Ref12","F":2e15,"D":21},{"s":"Ref12","F":3e15,"D":31},{"s":"Ref12","F":4e15,"D":42},{"s":"Ref12","F":5e15,"D":53},{"s":"Ref12","F":6e15,"D":68},{"s":"Ref12","F":7e15,"D":84},{"s":"Ref12","F":1e16,"D":92},{"s":"Ref12","F":1.5e16,"D":96},{"s":"Ref12","F":2e16,"D":97},{"s":"Ref12","F":5e16,"D":99},{"s":"Ref12","F":1e17,"D":100},
{"s":"In","F":1.1e12,"D":0.05},{"s":"In","F":2e12,"D":0.088},{"s":"In","F":3e12,"D":0.13},{"s":"In","F":5e12,"D":0.22},{"s":"In","F":1e13,"D":0.42},{"s":"In","F":2e13,"D":0.78},{"s":"In","F":3e13,"D":1.08},{"s":"In","F":5e13,"D":1.6},{"s":"In","F":7e13,"D":2.05},{"s":"In","F":1e14,"D":2.6},{"s":"In","F":1.5e14,"D":3.25},{"s":"In","F":2e14,"D":3.7},{"s":"In","F":3e14,"D":4.3},{"s":"In","F":5e14,"D":5.3},{"s":"In","F":7e14,"D":6.9},{"s":"In","F":1e15,"D":9.6},{"s":"In","F":1.5e15,"D":15.5},{"s":"In","F":2e15,"D":22.5},{"s":"In","F":3e15,"D":34},{"s":"In","F":4e15,"D":43},{"s":"In","F":5e15,"D":49},{"s":"In","F":7e15,"D":55.5},{"s":"In","F":1e16,"D":60},{"s":"In","F":1.5e16,"D":64},{"s":"In","F":2e16,"D":67.5},{"s":"In","F":3e16,"D":73},{"s":"In","F":4e16,"D":78},{"s":"In","F":6e16,"D":86},{"s":"In","F":1e17,"D":96},
{"s":"Ga","F":1.75e12,"D":0.05},{"s":"Ga","F":3e12,"D":0.088},{"s":"Ga","F":5e12,"D":0.15},{"s":"Ga","F":1e13,"D":0.29},{"s":"Ga","F":2e13,"D":0.52},{"s":"Ga","F":3e13,"D":0.72},{"s":"Ga","F":5e13,"D":1.05},{"s":"Ga","F":7e13,"D":1.35},{"s":"Ga","F":1e14,"D":1.72},{"s":"Ga","F":1.5e14,"D":2.2},{"s":"Ga","F":2e14,"D":2.5},{"s":"Ga","F":3e14,"D":2.85},{"s":"Ga","F":5e14,"D":3.25},{"s":"Ga","F":7e14,"D":3.6},{"s":"Ga","F":1e15,"D":4.1},{"s":"Ga","F":1.5e15,"D":5.1},{"s":"Ga","F":2e15,"D":6.4},{"s":"Ga","F":3e15,"D":9.3},{"s":"Ga","F":4e15,"D":12.3},{"s":"Ga","F":5e15,"D":15.5},{"s":"Ga","F":7e15,"D":25},{"s":"Ga","F":1e16,"D":40},{"s":"Ga","F":1.5e16,"D":56},{"s":"Ga","F":2e16,"D":65},{"s":"Ga","F":3e16,"D":74},{"s":"Ga","F":4e16,"D":79},{"s":"Ga","F":6e16,"D":87},{"s":"Ga","F":1e17,"D":96}
],
"ptsopen": [
{"s":"In","F":5e12,"D":0.3},{"s":"In","F":2e13,"D":0.8},{"s":"In","F":5e13,"D":1.4},{"s":"In","F":1e14,"D":2.8},{"s":"In","F":5e14,"D":5.2},{"s":"In","F":1e15,"D":9.6},{"s":"In","F":2e15,"D":23},{"s":"In","F":5e15,"D":48},{"s":"In","F":1e16,"D":60},{"s":"In","F":2e16,"D":66},{"s":"In","F":4e16,"D":78},
{"s":"Ga","F":5e12,"D":0.2},{"s":"Ga","F":2e13,"D":0.5},{"s":"Ga","F":5e13,"D":1.0},{"s":"Ga","F":1e14,"D":1.75},{"s":"Ga","F":2e14,"D":2.5},{"s":"Ga","F":5e14,"D":3.2},{"s":"Ga","F":1e15,"D":4.0},{"s":"Ga","F":2e15,"D":6.4},{"s":"Ga","F":5e15,"D":15.5},{"s":"Ga","F":1e16,"D":40},{"s":"Ga","F":2e16,"D":66},{"s":"Ga","F":4e16,"D":78}
],
"ptsfilled": [
{"s":"Ref14","F":8.7e12,"D":0.43},{"s":"Ref14","F":1.7e13,"D":0.49},{"s":"Ref14","F":3.5e13,"D":1.09},{"s":"Ref14","F":6.8e13,"D":2.5},{"s":"Ref14","F":1.07e14,"D":4.6},{"s":"Ref14","F":2.5e14,"D":11.3},{"s":"Ref14","F":4.4e14,"D":27},{"s":"Ref14","F":6.8e14,"D":53},{"s":"Ref14","F":9.6e14,"D":73},{"s":"Ref14","F":1.1e15,"D":83},{"s":"Ref14","F":1.37e15,"D":88},{"s":"Ref14","F":1.7e15,"D":91},{"s":"Ref14","F":2.1e15,"D":94},{"s":"Ref14","F":2.6e15,"D":97},{"s":"Ref14","F":3.2e15,"D":97},{"s":"Ref14","F":3.7e15,"D":97},
{"s":"Ref12","F":1e15,"D":7.3},{"s":"Ref12","F":2e15,"D":22},{"s":"Ref12","F":7.2e15,"D":86},{"s":"Ref12","F":1.23e16,"D":94},{"s":"Ref12","F":1.7e16,"D":97},{"s":"Ref12","F":2.4e16,"D":97}
],
"legopen": [{"s":"In","F":1.77e12,"D":64},{"s":"Ga","F":1.77e12,"D":23.6}],
"legfilled": [{"s":"Ref12","F":1.77e12,"D":9.9},{"s":"Ref14","F":1.77e12,"D":5.05}],
"legtext": [
{"s":"In","label":"In (w₁)","F":3.9e12,"D":64},
{"s":"Ga","label":"Ga (w₂)","F":4.6e12,"D":23.6},
{"s":"Ref12","label":"Ref. [12]","F":3.9e12,"D":9.9},
{"s":"Ref14","label":"Ref. [14]","F":3.9e12,"D":5.05}
],
"regimes": [
{"label":"Extended defects","F":8.69e15,"D":2.2},
{"label":"regime","F":8.69e15,"D":1.12},
{"label":"Point defects","F":1.38e14,"D":0.217},
{"label":"regime","F":1.41e14,"D":0.11}
],
"barrowPoint": [{"F":1.14e14,"D":0.318,"F2":4.97e13,"D2":0.566}],
"barrowExt": [{"F":9.86e15,"D":3.93,"F2":7.45e15,"D2":8.34}]
},
"spacing": 30,
"vconcat": [
{
 "width": 542, "height": 405,
 "layer": [
  {"data": {"name": "spectra"},
   "mark": {"type": "line", "clip": true, "strokeWidth": 3.2, "strokeJoin": "round"},
   "encoding": {
    "x": {"field": "E", "type": "quantitative", "scale": {"domain": [1500, 2000], "nice": false, "zero": false},
          "axis": {"orient": "bottom", "values": [1500,1600,1700,1800,1900,2000], "format": "d", "tickSize": -10, "labelPadding": 20, "title": "Energy (keV)", "titlePadding": 16}},
    "y": {"field": "Y", "type": "quantitative", "scale": {"type": "log", "domain": [1, 40000], "nice": false},
          "axis": {"orient": "left", "values": [1,10,100,1000,10000], "labelExpr": "'10' + ['⁰','¹','²','³','⁴','⁵'][round(log(datum.value)/LN10)]", "tickSize": -10, "labelPadding": 26, "title": "Yield (counts)", "titlePadding": 19}},
    "color": {"field": "s", "type": "nominal", "legend": null,
              "scale": {"domain": ["Random","4e16","2e16","1e16","5e15","2e15","1e15","5e14","1e14","Virgin"],
                        "range": ["#000000","#7f1f8c","#10107a","#1414ee","#1d7a1d","#2ee82e","#85851a","#ff8c1a","#ee1111","#8c8c8c"]}}
   }},
  {"data": {"name": "flabels"},
   "mark": {"type": "text", "fontWeight": "bold", "fontSize": 20, "align": "center", "baseline": "middle"},
   "encoding": {
    "x": {"field": "E", "type": "quantitative", "axis": {"orient": "top", "values": [1500,1600,1700,1800,1900,2000], "tickSize": -10, "labels": false, "title": null}},
    "y": {"field": "Y", "type": "quantitative", "axis": {"orient": "right", "values": [1,10,100,1000,10000], "tickSize": -10, "labels": false, "title": null}},
    "text": {"field": "label"},
    "color": {"field": "s", "type": "nominal", "legend": null}
   }},
  {"data": {"name": "rvlabels"},
   "mark": {"type": "text", "fontWeight": "bold", "fontSize": 27, "align": "center", "baseline": "middle"},
   "encoding": {
    "x": {"field": "E", "type": "quantitative", "axis": {"orient": "bottom", "values": [1550,1650,1750,1850,1950], "tickSize": -5, "labels": false, "domain": false, "title": null}},
    "y": {"field": "Y", "type": "quantitative", "axis": {"orient": "left", "values": [2,3,4,5,6,7,8,9,20,30,40,50,60,70,80,90,200,300,400,500,600,700,800,900,2000,3000,4000,5000,6000,7000,8000,9000,20000,30000], "tickSize": -5, "labels": false, "domain": false, "title": null}},
    "text": {"field": "label"},
    "color": {"field": "s", "type": "nominal", "legend": null}
   }},
  {"data": {"name": "elements"},
   "mark": {"type": "text", "fontSize": 29, "align": "center", "baseline": "middle", "color": "#000"},
   "encoding": {
    "x": {"field": "E", "type": "quantitative", "axis": {"orient": "top", "values": [1550,1650,1750,1850,1950], "tickSize": -5, "labels": false, "domain": false, "title": null}},
    "y": {"field": "Y", "type": "quantitative", "axis": {"orient": "right", "values": [2,3,4,5,6,7,8,9,20,30,40,50,60,70,80,90,200,300,400,500,600,700,800,900,2000,3000,4000,5000,6000,7000,8000,9000,20000,30000], "tickSize": -5, "labels": false, "domain": false, "title": null}},
    "text": {"field": "label"}
   }},
  {"data": {"values": [{"label": "(a)", "E": 1549, "Y": 3.16}]},
   "mark": {"type": "text", "fontSize": 54, "align": "center", "baseline": "middle", "color": "#000"},
   "encoding": {
    "x": {"field": "E", "type": "quantitative", "axis": null},
    "y": {"field": "Y", "type": "quantitative", "axis": null},
    "text": {"field": "label"}
   }},
  {"data": {"name": "windows"},
   "mark": {"type": "text", "fontSize": 28, "align": "center", "baseline": "middle", "color": "#8c8c8c"},
   "encoding": {
    "x": {"field": "E", "type": "quantitative", "axis": null},
    "y": {"field": "Y", "type": "quantitative", "axis": null},
    "text": {"field": "label"}
   }},
  {"data": {"name": "windows"},
   "mark": {"type": "rule", "strokeWidth": 5, "color": "#999999"},
   "encoding": {
    "x": {"field": "E2", "type": "quantitative", "axis": null},
    "x2": {"field": "E3"},
    "y": {"field": "Yb", "type": "quantitative", "axis": null}
   }},
  {"data": {"name": "dashes"},
   "mark": {"type": "rule", "strokeWidth": 1.3, "strokeDash": [5, 4], "color": "#000"},
   "encoding": {
    "x": {"field": "E", "type": "quantitative", "axis": null},
    "y": {"field": "Y", "type": "quantitative", "axis": null},
    "y2": {"field": "Y2"}
   }},
  {"data": {"name": "aarrows"},
   "mark": {"type": "rule", "strokeWidth": 2.2, "color": "#000"},
   "encoding": {
    "x": {"field": "E", "type": "quantitative", "axis": null},
    "y": {"field": "Y", "type": "quantitative", "axis": null},
    "y2": {"field": "Y2"}
   }},
  {"data": {"name": "aarrows"},
   "mark": {"type": "point", "shape": "M-0.75,-1L0.75,-1L0,1Z", "filled": true, "size": 150, "color": "#000", "opacity": 1},
   "encoding": {
    "x": {"field": "E", "type": "quantitative", "axis": null},
    "y": {"field": "Yh", "type": "quantitative", "axis": null}
   }}
 ],
 "resolve": {"axis": {"x": "independent", "y": "independent"}}
},
{
 "width": 542, "height": 403,
 "layer": [
    {"data": {"name": "fits"},
     "mark": {"type": "line", "clip": true, "strokeWidth": 3},
     "encoding": {
      "x": {"field": "F", "type": "quantitative", "scale": {"type": "log", "domain": [1e12, 1e17], "nice": false},
            "axis": {"orient": "bottom", "values": [1e12,1e13,1e14,1e15,1e16,1e17], "labelExpr": "'10' + ['⁰','¹','²','³','⁴','⁵','⁶','⁷','⁸','⁹'][floor(round(log(datum.value)/LN10)/10)] + ['⁰','¹','²','³','⁴','⁵','⁶','⁷','⁸','⁹'][round(log(datum.value)/LN10)%10]", "tickSize": -10, "labelPadding": 20, "title": "Fluence (cm⁻²)", "titlePadding": 14}},
      "y": {"field": "D", "type": "quantitative", "scale": {"type": "log", "domain": [0.05, 120], "nice": false},
            "axis": {"orient": "left", "values": [0.1,1,10,100], "labelExpr": "datum.value < 1 ? '0.1' : format(datum.value, 'd')", "tickSize": -10, "labelPadding": 22, "title": "Damage level (%)", "titlePadding": 17}},
      "color": {"field": "s", "type": "nominal", "legend": null,
                "scale": {"domain": ["In","Ga","Ref12","Ref14"], "range": ["#1010ee","#ee1010","#000000","#8c8c8c"]}},
      "strokeDash": {"field": "s", "type": "nominal", "legend": null,
                "scale": {"domain": ["In","Ga","Ref12","Ref14"], "range": [[1,0],[1,0],[14,5,3,5],[14,5,3,5]]}}
     }},
    {"data": {"name": "ptsfilled"},
     "mark": {"type": "point", "filled": true, "size": 220, "opacity": 1},
     "encoding": {
      "x": {"field": "F", "type": "quantitative", "axis": {"orient": "top", "values": [2.339e12,2.339e13,2.339e14,2.339e15,2.339e16], "labelExpr": "'10' + (round(log(datum.value)/LN10 - 15.369) < 0 ? '⁻' : '') + ['⁰','¹','²','³','⁴','⁵','⁶','⁷','⁸','⁹'][abs(round(log(datum.value)/LN10 - 15.369))]", "tickSize": -10, "labelPadding": 20, "title": "Displacements per Ga atom", "titlePadding": 6}},
      "y": {"field": "D", "type": "quantitative", "axis": {"orient": "right", "values": [0.1,1,10,100], "tickSize": -10, "labels": false, "title": null}},
      "color": {"field": "s", "type": "nominal", "legend": null},
      "shape": {"field": "s", "type": "nominal", "legend": null,
                "scale": {"domain": ["In","Ga","Ref12","Ref14"], "range": ["square","circle","square","circle"]}}
     }},
    {"data": {"name": "ptsopen"},
     "mark": {"type": "point", "filled": false, "size": 320, "strokeWidth": 2.6, "opacity": 1},
     "encoding": {
      "x": {"field": "F", "type": "quantitative", "axis": {"orient": "bottom", "values": [2e12,3e12,4e12,5e12,6e12,7e12,8e12,9e12,2e13,3e13,4e13,5e13,6e13,7e13,8e13,9e13,2e14,3e14,4e14,5e14,6e14,7e14,8e14,9e14,2e15,3e15,4e15,5e15,6e15,7e15,8e15,9e15,2e16,3e16,4e16,5e16,6e16,7e16,8e16,9e16], "tickSize": -5, "labels": false, "domain": false, "title": null}},
      "y": {"field": "D", "type": "quantitative", "axis": {"orient": "left", "values": [0.06,0.07,0.08,0.09,0.2,0.3,0.4,0.5,0.6,0.7,0.8,0.9,2,3,4,5,6,7,8,9,20,30,40,50,60,70,80,90], "tickSize": -5, "labels": false, "domain": false, "title": null}},
      "color": {"field": "s", "type": "nominal", "legend": null},
      "shape": {"field": "s", "type": "nominal", "legend": null}
     }},
    {"data": {"name": "legopen"},
     "mark": {"type": "point", "filled": false, "size": 140, "strokeWidth": 2.4, "opacity": 1},
     "encoding": {
      "x": {"field": "F", "type": "quantitative", "axis": {"orient": "top", "values": [1.1695e12,1.4034e12,1.6373e12,1.8712e12,2.1051e12,4.678e12,7.017e12,9.356e12,1.1695e13,1.4034e13,1.6373e13,1.8712e13,2.1051e13,4.678e13,7.017e13,9.356e13,1.1695e14,1.4034e14,1.6373e14,1.8712e14,2.1051e14,4.678e14,7.017e14,9.356e14,1.1695e15,1.4034e15,1.6373e15,1.8712e15,2.1051e15,4.678e15,7.017e15,9.356e15,1.1695e16,1.4034e16,1.6373e16,1.8712e16,2.1051e16,4.678e16,7.017e16,9.356e16], "tickSize": -5, "labels": false, "domain": false, "title": null}},
      "y": {"field": "D", "type": "quantitative", "axis": {"orient": "right", "values": [0.06,0.07,0.08,0.09,0.2,0.3,0.4,0.5,0.6,0.7,0.8,0.9,2,3,4,5,6,7,8,9,20,30,40,50,60,70,80,90], "tickSize": -5, "labels": false, "domain": false, "title": null}},
      "color": {"field": "s", "type": "nominal", "legend": null},
      "shape": {"field": "s", "type": "nominal", "legend": null}
     }},
    {"data": {"name": "legfilled"},
     "mark": {"type": "point", "filled": true, "size": 140, "opacity": 1},
     "encoding": {
      "x": {"field": "F", "type": "quantitative", "axis": null},
      "y": {"field": "D", "type": "quantitative", "axis": null},
      "color": {"field": "s", "type": "nominal", "legend": null},
      "shape": {"field": "s", "type": "nominal", "legend": null}
     }},
    {"data": {"name": "legtext"},
     "mark": {"type": "text", "fontSize": 26, "align": "left", "baseline": "middle"},
     "encoding": {
      "x": {"field": "F", "type": "quantitative", "axis": null},
      "y": {"field": "D", "type": "quantitative", "axis": null},
      "text": {"field": "label"},
      "color": {"field": "s", "type": "nominal", "legend": null}
     }},
    {"data": {"name": "regimes"},
     "mark": {"type": "text", "fontSize": 25, "align": "center", "baseline": "middle", "color": "#000"},
     "encoding": {
      "x": {"field": "F", "type": "quantitative", "axis": null},
      "y": {"field": "D", "type": "quantitative", "axis": null},
      "text": {"field": "label"}
     }},
    {"data": {"values": [{"label": "(b)", "F": 4.19e16, "D": 0.12}]},
     "mark": {"type": "text", "fontSize": 54, "align": "center", "baseline": "middle", "color": "#000"},
     "encoding": {
      "x": {"field": "F", "type": "quantitative", "axis": null},
      "y": {"field": "D", "type": "quantitative", "axis": null},
      "text": {"field": "label"}
     }},
    {"data": {"name": "barrowPoint"},
     "mark": {"type": "rule", "strokeWidth": 3.5, "color": "#000"},
     "encoding": {
      "x": {"field": "F", "type": "quantitative", "axis": null},
      "y": {"field": "D", "type": "quantitative", "axis": null},
      "x2": {"field": "F2"}, "y2": {"field": "D2"}
     }},
    {"data": {"name": "barrowPoint"},
     "mark": {"type": "point", "shape": "M-0.8,1L0.8,1L0,-1Z", "filled": true, "size": 300, "angle": 307, "color": "#000", "opacity": 1},
     "encoding": {
      "x": {"field": "F2", "type": "quantitative", "axis": null},
      "y": {"field": "D2", "type": "quantitative", "axis": null}
     }},
    {"data": {"name": "barrowExt"},
     "mark": {"type": "rule", "strokeWidth": 3.5, "color": "#000"},
     "encoding": {
      "x": {"field": "F", "type": "quantitative", "axis": null},
      "y": {"field": "D", "type": "quantitative", "axis": null},
      "x2": {"field": "F2"}, "y2": {"field": "D2"}
     }},
    {"data": {"name": "barrowExt"},
     "mark": {"type": "point", "shape": "M-0.8,1L0.8,1L0,-1Z", "filled": true, "size": 300, "angle": 341, "color": "#000", "opacity": 1},
     "encoding": {
      "x": {"field": "F2", "type": "quantitative", "axis": null},
      "y": {"field": "D2", "type": "quantitative", "axis": null}
     }}
 ],
 "resolve": {"axis": {"x": "independent", "y": "independent"}}
}
]
}
